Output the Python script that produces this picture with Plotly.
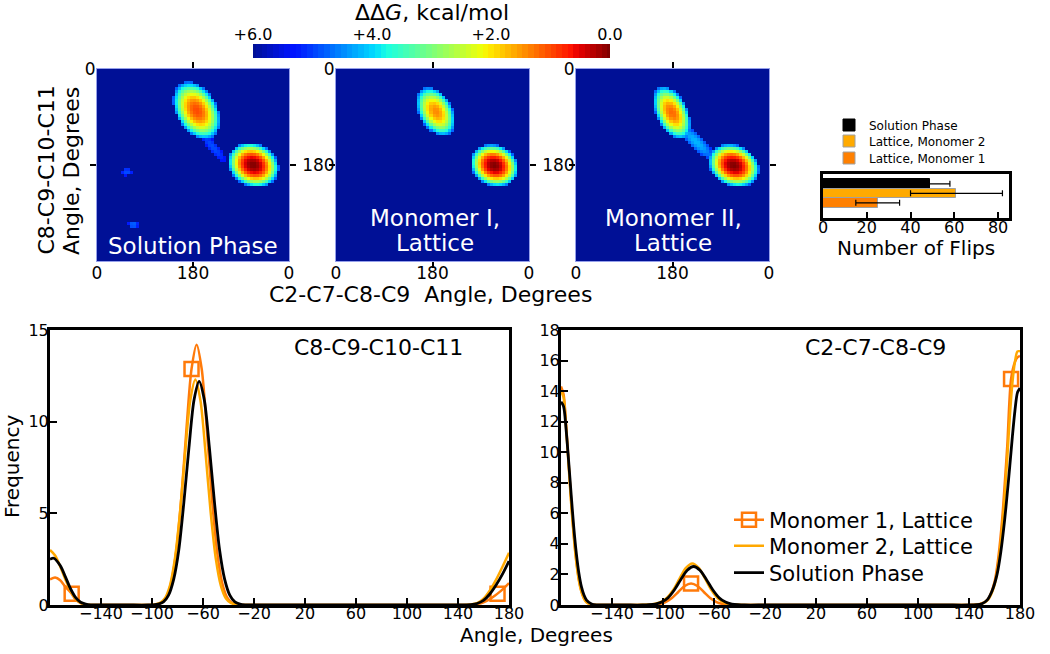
import numpy as np
import plotly.graph_objects as go

FONT = "DejaVu Sans"
W, H = 1050, 654

# ---------------- data: free-energy maps (basin parameters) ----------------
dG_max = 6.0
n_bins = 64
bin_width = 360.0 / n_bins
heat_centers = np.arange(n_bins) * bin_width + bin_width / 2

# Solution phase: two basins + sparse connection + two faint specks
sol_cx = [187, 293, 217, 56, 68]
sol_cy = [78, 180, 146, 193, 292]
sol_a = [58, 49, 36, 10, 10]
sol_b = [38, 40, 9, 7, 7]
sol_tilt = [60, 25, 50, 0, 0]
sol_min = [1.0, 0.0, 4.9, 4.9, 4.7]
sol_edge = [4.8, 4.8, 5.4, 5.3, 5.3]

# Monomer I, lattice
m1_cx = [186, 295]
m1_cy = [80, 181]
m1_a = [49, 46]
m1_b = [30, 38]
m1_tilt = [62, 25]
m1_min = [1.4, 0.0]
m1_edge = [4.8, 4.8]

# Monomer II, lattice
m2_cx = [179, 294, 223]
m2_cy = [82, 181, 136]
m2_a = [53, 49, 46]
m2_b = [28, 38, 13]
m2_tilt = [65, 25, 45]
m2_min = [1.2, 0.0, 4.2]
m2_edge = [4.8, 4.8, 5.1]

colorbar_vals = [-6, -4, -2, 0]
colorbar_text = ["+6.0", "+4.0", "+2.0", "0.0"]
colorbar_steps = 64
heat_x_ticks = [0, 180, 360]
heat_x_text = ["0", "180", "0"]

# ---------------- data: number of flips ----------------
flip_groups = ["Solution Phase", "Lattice, Monomer 2", "Lattice, Monomer 1"]
flip_means = [49, 61, 25]
flip_errs = [9, 21, 10]
flip_ticks = [0, 20, 40, 60, 80]

# ---------------- data: dihedral distributions ----------------
angle_ticks = [-140, -100, -60, -20, 20, 60, 100, 140, 180]

# C8-C9-C10-C11
m1_x_a = [-180, -176, -172, -168, -163, -160, -156, -152, -148, -140, -120,
          -101, -97, -93, -89, -85, -81, -77, -73, -69, -65, -61, -57, -53, -49, -45, -41, -37, -33, -29,
          -20, 0, 40, 80, 120, 140, 150, 155, 160, 165, 171, 175, 180]
m1_y_a = [1.4, 1.5, 1.35, 1.0, 0.62, 0.3, 0.1, 0.02, 0, 0, 0,
          0, 0.03, 0.11, 0.40, 1.21, 2.93, 5.84, 9.57, 12.87, 14.2, 12.87, 9.57, 5.84, 2.93, 1.21, 0.40, 0.11, 0.03, 0,
          0, 0, 0, 0, 0, 0, 0.01, 0.05, 0.15, 0.32, 0.62, 0.85, 1.2]
m1_marks_a = [-163, -69, 171]

m2_x_a = [-180, -176, -172, -168, -164, -160, -156, -152, -148, -130,
          -102, -98, -94, -90, -86, -82, -78, -74, -70, -66, -62, -58, -54, -50, -46, -42, -38, -34, -30,
          -20, 0, 60, 120, 140, 150, 155, 160, 165, 170, 175, 180]
m2_y_a = [3.0, 2.7, 2.1, 1.4, 0.8, 0.35, 0.12, 0.03, 0, 0,
          0, 0.025, 0.1, 0.35, 1.05, 2.54, 5.06, 8.29, 11.15, 12.3, 11.15, 8.29, 5.06, 2.54, 1.05, 0.35, 0.1, 0.025, 0,
          0, 0, 0, 0, 0, 0.03, 0.1, 0.35, 0.8, 1.4, 2.1, 2.85]

sol_x_a = [-180, -177, -172, -168, -164, -160, -156, -152, -148, -140, -120,
           -103, -99, -95, -91, -87, -83, -79, -75, -71, -67, -63, -59, -55, -51, -47, -43, -39, -35, -31, -27,
           -20, 0, 60, 120, 140, 150, 155, 160, 165, 170, 175, 180]
sol_y_a = [2.5, 2.55, 2.15, 1.55, 0.9, 0.42, 0.15, 0.05, 0.01, 0, 0,
           0, 0.01, 0.05, 0.17, 0.54, 1.4, 3.0, 5.6, 8.6, 11.2, 12.2, 11.2, 8.6, 5.6, 3.0, 1.4, 0.54, 0.17, 0.05, 0.01,
           0, 0, 0, 0, 0, 0.02, 0.08, 0.25, 0.6, 1.1, 1.7, 2.4]

# C2-C7-C8-C9
m1_x_b = [-180, -178, -176, -174, -172, -170, -168, -166, -164, -162, -160, -156, -152, -146, -130,
          -113, -108, -103, -98, -93, -88, -83, -78, -73, -68, -63, -58, -53, -48, -43,
          -30, 0, 60, 120, 140, 146, 150, 155, 160, 163, 166, 168, 170, 173, 176, 178, 180]
m1_y_b = [14.3, 13.8, 11.8, 9.3, 6.8, 4.6, 2.9, 1.7, 0.9, 0.45, 0.2, 0.04, 0, 0, 0,
          0, 0.015, 0.062, 0.19, 0.455, 0.85, 1.24, 1.4, 1.24, 0.85, 0.455, 0.19, 0.062, 0.015, 0,
          0, 0, 0, 0, 0, 0.03, 0.1, 0.4, 1.5, 3.1, 5.6, 7.9, 10.4, 14.8, 15.9, 16.2, 16.3]
m1_marks_b = [-78, 173]

m2_x_b = [-180, -178, -176, -174, -172, -170, -168, -166, -164, -162, -160, -156, -152, -146, -130,
          -122, -117, -112, -107, -102, -97, -92, -87, -82, -77, -72, -67, -62, -57, -52, -47, -42, -37,
          -30, 0, 60, 120, 140, 146, 150, 155, 160, 163, 166, 168, 170, 172, 174, 176, 178, 180]
m2_y_b = [14.0, 13.6, 11.6, 9.1, 6.6, 4.5, 2.8, 1.6, 0.85, 0.42, 0.18, 0.03, 0, 0, 0,
          0.005, 0.01, 0.03, 0.07, 0.18, 0.46, 0.98, 1.73, 2.43, 2.72, 2.43, 1.73, 0.98, 0.44, 0.16, 0.046, 0.01, 0,
          0, 0, 0, 0, 0, 0.02, 0.08, 0.35, 1.3, 2.7, 5.0, 7.2, 9.6, 12.3, 14.5, 15.9, 16.6, 16.6]

sol_x_b = [-180, -178, -176, -174, -172, -170, -168, -166, -164, -162, -160, -156, -152, -146, -130,
           -116, -111, -106, -101, -96, -91, -86, -81, -76, -71, -66, -61, -56, -51, -46, -41, -36,
           -20, 0, 60, 120, 140, 146, 150, 154, 158, 162, 165, 168, 170, 172, 174, 176, 178, 180]
sol_y_b = [13.3, 13.0, 11.5, 9.4, 7.2, 5.1, 3.4, 2.1, 1.2, 0.65, 0.32, 0.07, 0.01, 0, 0,
           0, 0.016, 0.06, 0.19, 0.48, 1.0, 1.67, 2.27, 2.52, 2.27, 1.67, 1.0, 0.48, 0.19, 0.06, 0.016, 0,
           0, 0, 0, 0, 0, 0.02, 0.08, 0.3, 0.9, 2.0, 3.5, 5.6, 7.3, 9.1, 11.0, 12.7, 13.9, 14.2]

# ---------------- styles ----------------
C_SOL = "black"
C_M1 = "rgb(255,122,10)"
C_M2 = "rgb(255,168,0)"
C_BAR_M1 = "rgb(255,128,0)"
C_BAR_M2 = "rgb(255,170,0)"
HEAT_EDGE = "rgb(150,160,235)"

jet = [[0.0, "rgb(0,16,150)"], [0.11, "rgb(0,20,255)"], [0.125, "rgb(0,25,255)"],
       [0.34, "rgb(0,219,255)"], [0.375, "rgb(25,255,226)"], [0.5, "rgb(123,255,123)"],
       [0.64, "rgb(239,255,8)"], [0.66, "rgb(255,236,0)"], [0.89, "rgb(255,19,0)"],
       [0.91, "rgb(232,0,0)"], [1.0, "rgb(128,0,0)"]]


def ddg_grid(cx, cy, a, b, tilt, base, edge):
    xx, yy = np.meshgrid(heat_centers, heat_centers)
    g = np.full(xx.shape, dG_max)
    for i in range(len(cx)):
        t = np.radians(tilt[i])
        dx = xx - cx[i]
        dy = yy - cy[i]
        u = dx * np.cos(t) + dy * np.sin(t)
        v = -dx * np.sin(t) + dy * np.cos(t)
        d2 = (u / a[i]) ** 2 + (v / b[i]) ** 2
        val = np.where(d2 <= 1.0, base[i] + (edge[i] - base[i]) * d2, dG_max)
        g = np.minimum(g, val)
    return g


def px_x(p):
    return p / W


def px_y(p):
    return 1 - p / H


fig = go.Figure()

# ---------- heat maps ----------
heat_sets = [
    (sol_cx, sol_cy, sol_a, sol_b, sol_tilt, sol_min, sol_edge),
    (m1_cx, m1_cy, m1_a, m1_b, m1_tilt, m1_min, m1_edge),
    (m2_cx, m2_cy, m2_a, m2_b, m2_tilt, m2_min, m2_edge),
]
for k, params in enumerate(heat_sets):
    z = -ddg_grid(*params)
    fig.add_trace(go.Heatmap(
        x=heat_centers, y=heat_centers, z=z, coloraxis="coloraxis",
        xaxis="x" if k == 0 else f"x{k+1}", yaxis="y" if k == 0 else f"y{k+1}",
        zsmooth=False, hoverinfo="skip"))

# colour key drawn as a one-row heat map strip on its own axis
cb_levels = np.linspace(-dG_max, 0, colorbar_steps)
fig.add_trace(go.Heatmap(
    x=cb_levels, y=[0], z=[cb_levels], coloraxis="coloraxis",
    xaxis="x7", yaxis="y7", zsmooth=False, hoverinfo="skip"))

# ---------- bars ----------
bar_colors = [C_SOL, C_BAR_M2, C_BAR_M1]
bar_lines = ["black", "rgb(160,160,160)", "rgb(160,160,160)"]
for i, g in enumerate(flip_groups):
    fig.add_trace(go.Bar(
        x=[flip_means[i]], y=[g], orientation="h", name=g,
        marker=dict(color=bar_colors[i], line=dict(color=bar_lines[i], width=1)),
        error_x=dict(type="data", array=[flip_errs[i]], color="black", thickness=1.2, width=3),
        xaxis="x4", yaxis="y4", legend=f"legend{4+i}", showlegend=True))

# ---------- distribution lines ----------
panels = [
    ("x5", "y5", (m1_x_a, m1_y_a, m1_marks_a), (m2_x_a, m2_y_a), (sol_x_a, sol_y_a), True),
    ("x6", "y6", (m1_x_b, m1_y_b, m1_marks_b), (m2_x_b, m2_y_b), (sol_x_b, sol_y_b), False),
]
for xa, ya, m1, m2, so, show in panels:
    sel = [m1[0].index(v) for v in m1[2]]
    fig.add_trace(go.Scatter(
        x=m1[0], y=m1[1], mode="lines+markers", name="Monomer 1, Lattice",
        line=dict(color=C_M1, width=2.5, shape="spline", smoothing=0.8),
        marker=dict(symbol="square-open", size=14, color=C_M1, line=dict(width=2.5, color=C_M1)),
        selectedpoints=sel, selected=dict(marker=dict(opacity=1)), unselected=dict(marker=dict(opacity=0)),
        xaxis=xa, yaxis=ya, legend="legend", legendgroup="m1", showlegend=show))
    fig.add_trace(go.Scatter(
        x=m2[0], y=m2[1], mode="lines", name="Monomer 2, Lattice",
        line=dict(color=C_M2, width=2.5, shape="spline", smoothing=0.8),
        xaxis=xa, yaxis=ya, legend="legend2", legendgroup="m2", showlegend=show))
    fig.add_trace(go.Scatter(
        x=so[0], y=so[1], mode="lines", name="Solution Phase",
        line=dict(color=C_SOL, width=2.8, shape="spline", smoothing=0.8),
        xaxis=xa, yaxis=ya, legend="legend3", legendgroup="sol", showlegend=show))

# ---------- layout ----------
lay = dict(
    width=W, height=H, margin=dict(l=0, r=0, t=0, b=0, autoexpand=False),
    paper_bgcolor="white", plot_bgcolor="white",
    font=dict(family=FONT, color="black", size=16),
    bargap=0,
    coloraxis=dict(colorscale=jet, cmin=-dG_max, cmax=0, showscale=False),
)

heat_dom_x = [(97, 289), (336, 529), (576, 769)]
for k, (l, r) in enumerate(heat_dom_x):
    sx = "" if k == 0 else str(k + 1)
    lay[f"xaxis{sx}"] = dict(
        domain=[px_x(l), px_x(r)], range=[0, 360], anchor=f"y{sx}",
        tickvals=heat_x_ticks, ticktext=heat_x_text, ticks="", tickfont=dict(size=17),
        ticklabelstandoff=-3,
        showline=True, linecolor=HEAT_EDGE, linewidth=1, mirror="ticks",
        showgrid=False, zeroline=False,
        minor=dict(tickvals=[180], ticks="outside", ticklen=6, tickwidth=2, tickcolor="black", showgrid=False))
    lay[f"yaxis{sx}"] = dict(
        domain=[px_y(261), px_y(69)], range=[360, 0], anchor=f"x{sx}",
        tickvals=[0] if k == 0 else [0, 180], ticktext=["0"] if k == 0 else ["0", "180"],
        ticks="", tickfont=dict(size=17), ticklabelstandoff=-3,
        showline=True, linecolor=HEAT_EDGE, linewidth=1, mirror="ticks",
        showgrid=False, zeroline=False,
        minor=dict(tickvals=[180], ticks="outside", ticklen=6, tickwidth=2, tickcolor="black", showgrid=False))

# colour key axes
lay["xaxis7"] = dict(
    domain=[px_x(253), px_x(610)], range=[-dG_max, 0], anchor="y7", side="top",
    tickvals=colorbar_vals, ticktext=colorbar_text, ticks="", tickfont=dict(size=16),
    showline=False, showgrid=False, zeroline=False)
lay["yaxis7"] = dict(
    domain=[px_y(58), px_y(44)], range=[-0.5, 0.5], anchor="x7",
    showticklabels=False, ticks="", showline=False, showgrid=False, zeroline=False)

lay["xaxis4"] = dict(
    domain=[px_x(823), px_x(1009)], range=[0, 85], anchor="y4",
    tickvals=flip_ticks, ticks="inside", ticklen=6, tickwidth=2, tickcolor="black",
    tickfont=dict(size=16), ticklabelstandoff=-7,
    showline=True, linecolor="black", linewidth=3, mirror=True,
    showgrid=False, zeroline=False)
lay["yaxis4"] = dict(
    domain=[px_y(218), px_y(174)], type="category",
    categoryorder="array", categoryarray=list(reversed(flip_groups)),
    range=[-1.6, 3.03], anchor="x4", showticklabels=False, ticks="",
    showline=True, linecolor="black", linewidth=3, mirror=True, showgrid=False, zeroline=False)

line_dom = [(50, 509, [0, 15], [0, 5, 10, 15]), (561, 1020, [0, 18], list(range(0, 19, 2)))]
for k, (l, r, yr, yt) in enumerate(line_dom):
    n = 5 + k
    lay[f"xaxis{n}"] = dict(
        domain=[px_x(l), px_x(r)], range=[-180, 180], anchor=f"y{n}",
        tickvals=angle_ticks, ticks="inside", ticklen=7, tickwidth=2, tickcolor="black",
        tickfont=dict(size=16), ticklabelstandoff=-8,
        showline=True, linecolor="black", linewidth=3, mirror=True,
        showgrid=False, zeroline=False)
    lay[f"yaxis{n}"] = dict(
        domain=[px_y(605), px_y(330)], range=yr, anchor=f"x{n}",
        tickvals=yt, ticks="inside", ticklen=7, tickwidth=2, tickcolor="black",
        tickfont=dict(size=16), ticklabelstandoff=-5,
        showline=True, linecolor="black", linewidth=3, mirror=True,
        showgrid=False, zeroline=False)

# legends: one entry each so the spacing follows the reference
line_leg_y = [520, 546, 573]
for i, yy in enumerate(line_leg_y):
    key = "legend" if i == 0 else f"legend{i+1}"
    lay[key] = dict(x=px_x(729), xanchor="left", y=px_y(yy), yanchor="middle",
                    bgcolor="rgba(0,0,0,0)", font=dict(size=21, family=FONT),
                    itemwidth=30, borderwidth=0)
bar_leg_y = [125, 141, 158]
for i, yy in enumerate(bar_leg_y):
    lay[f"legend{4+i}"] = dict(x=px_x(829), xanchor="left", y=px_y(yy), yanchor="middle",
                              bgcolor="rgba(0,0,0,0)", font=dict(size=12, family=FONT),
                              itemwidth=30, borderwidth=0)

ann = []


def add_text(text, x, y, size, color="black", angle=0):
    ann.append(dict(text=text, x=px_x(x), y=px_y(y), xref="paper", yref="paper",
                    xanchor="center", yanchor="middle", showarrow=False, textangle=angle,
                    font=dict(size=size, color=color, family=FONT)))


add_text("ΔΔ<i>G</i>, kcal/mol", 432, 13, 22)
add_text("C8-C9-C10-C11", 46.5, 170, 22, angle=-90)
add_text("Angle, Degrees", 71, 171, 22, angle=-90)
add_text("C2-C7-C8-C9\u00a0 Angle, Degrees", 430, 294, 22)
add_text("Solution Phase", 193, 246, 23, color="white")
add_text("Monomer I,", 435, 218, 23, color="white")
add_text("Lattice", 435, 243, 23, color="white")
add_text("Monomer II,", 673, 218, 23, color="white")
add_text("Lattice", 673, 243, 23, color="white")
add_text("Number of Flips", 916, 248, 20)
add_text("C8-C9-C10-C11", 378, 347, 22)
add_text("C2-C7-C8-C9", 875, 347, 22)
add_text("Frequency", 12, 467, 20, angle=-90)
add_text("Angle, Degrees", 536, 635, 20)
lay["annotations"] = ann

fig.update_layout(**lay)
# the page's default 8px body margin would push the figure off the 1050x654 window
fig.write_html("out.html", config={"displayModeBar": False},
               post_script="document.body.style.margin='0';")
